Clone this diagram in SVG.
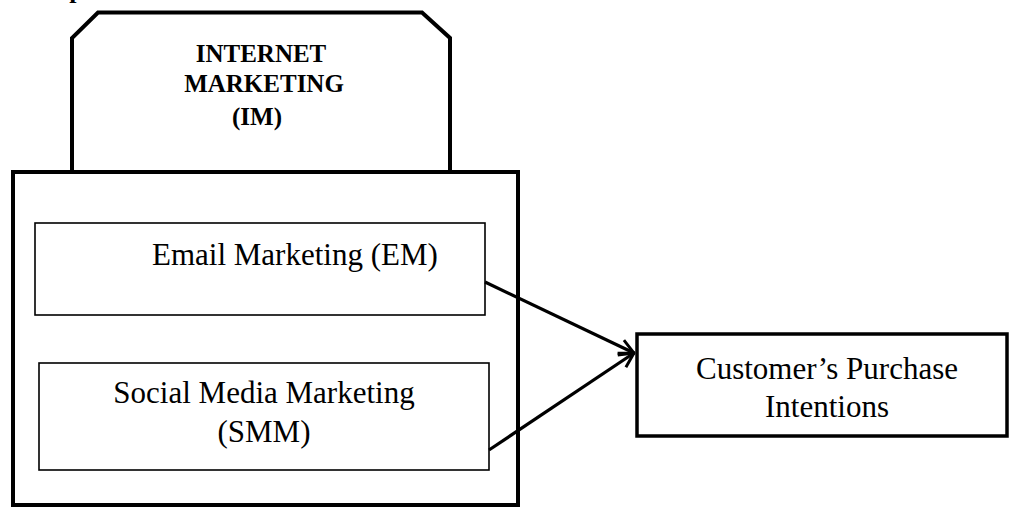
<svg xmlns="http://www.w3.org/2000/svg" width="1009" height="508" viewBox="0 0 1009 508">
  <style>
    .heavy { fill: none; stroke: #000; stroke-width: 4; stroke-linejoin: miter; }
    .thin { fill: #fff; stroke: #000; stroke-width: 1.6; }
    .label { font-family: "Liberation Serif", "Times New Roman", serif; font-size: 31px; fill: #000; }
    .title { font-family: "Liberation Serif", "Times New Roman", serif; font-size: 25px; font-weight: bold; fill: #000; text-anchor: middle; }
    .link { fill: none; stroke: #000; stroke-width: 3.2; }
  </style>
  <defs>
    <marker id="openArrow" viewBox="0 0 12 12" refX="11" refY="6" markerWidth="5.5" markerHeight="5.5" orient="auto" markerUnits="strokeWidth">
      <path d="M1,1 L11,6 L1,11" fill="none" stroke="#000" stroke-width="2"/>
    </marker>
  </defs>
  <rect width="1009" height="508" fill="#fff"/>

  <!-- heading, clipped at the top edge -->
  <text x="0" y="-2" font-family="Liberation Serif, Times New Roman, serif" font-size="26" font-weight="bold">Conceptual Model</text>

  <!-- Internet Marketing container: tab plus body -->
  <g id="internet-marketing">
    <path class="heavy" d="M72,172 L72,38 L98,12.5 L422,12.5 L450,38 L450,172"/>
    <rect class="heavy" x="13" y="172" width="505" height="333"/>
    <text class="title" x="261" y="62">INTERNET</text>
    <text class="title" x="264" y="92">MARKETING</text>
    <text class="title" x="257" y="125">(IM)</text>
  </g>

  <g id="email-marketing">
    <rect class="thin" x="35" y="223" width="450" height="92"/>
    <text class="label" x="152" y="265">Email Marketing (EM)</text>
  </g>

  <g id="social-media-marketing">
    <rect class="thin" x="39" y="363" width="450" height="107"/>
    <text class="label" x="264" y="403" text-anchor="middle">Social Media Marketing</text>
    <text class="label" x="264" y="442" text-anchor="middle">(SMM)</text>
  </g>

  <g id="purchase-intentions">
    <rect x="637" y="334" width="370" height="102" fill="#fff" stroke="#000" stroke-width="3.5"/>
    <text class="label" x="827" y="379" text-anchor="middle">Customer’s Purchase</text>
    <text class="label" x="827" y="417" text-anchor="middle">Intentions</text>
  </g>

  <g id="connectors">
    <line class="link" x1="485" y1="282" x2="634" y2="353" marker-end="url(#openArrow)"/>
    <line class="link" x1="489" y1="450" x2="634" y2="353" marker-end="url(#openArrow)"/>
  </g>
</svg>
